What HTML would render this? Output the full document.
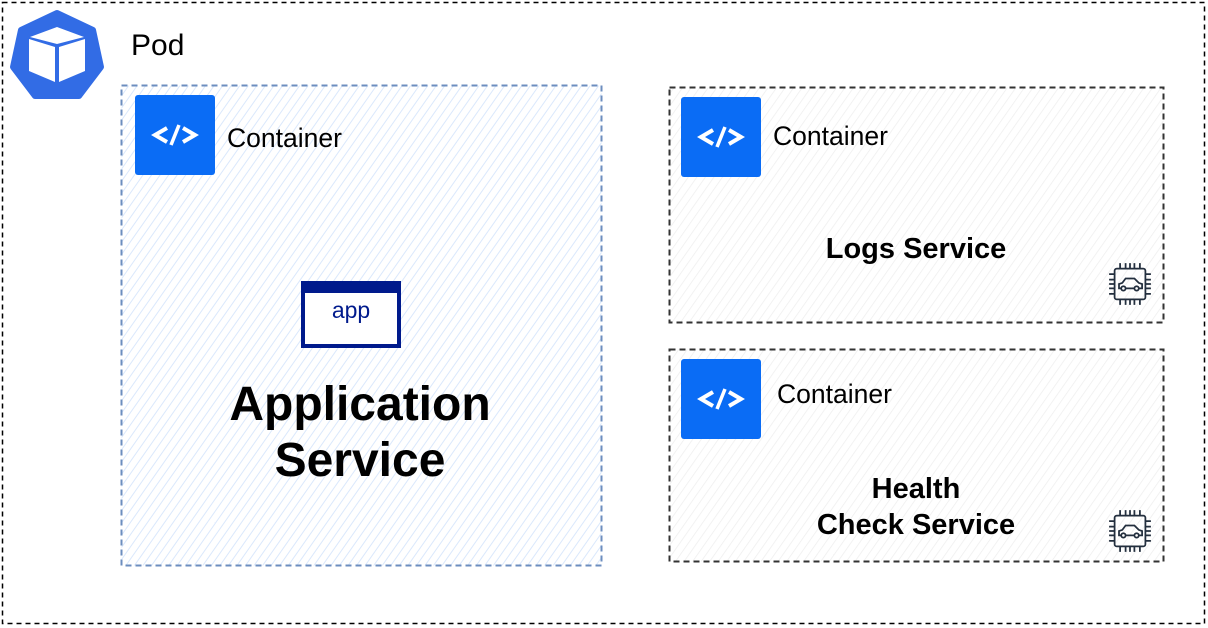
<!DOCTYPE html>
<html><head><style>
body{margin:0;background:#fff;}
svg{display:block;}
text{font-family:"Liberation Sans",Arial,sans-serif;}
</style></head><body>
<svg width="1208" height="628" viewBox="0 0 1208 628" xmlns="http://www.w3.org/2000/svg">
<defs>
<pattern id="hb" patternUnits="userSpaceOnUse" width="7" height="7" patternTransform="rotate(35)">
<rect width="7" height="7" fill="#fff"/><line x1="0" y1="0" x2="0" y2="7" stroke="#dae8fc" stroke-width="2"/></pattern>
<pattern id="hg" patternUnits="userSpaceOnUse" width="7" height="7" patternTransform="rotate(35)">
<rect width="7" height="7" fill="#fff"/><line x1="0" y1="0" x2="0" y2="7" stroke="#eeeeee" stroke-width="1.5"/></pattern>
<g id="code">
<rect width="80" height="80" rx="3" fill="#0a6cf5"/>
<path d="M32 33 L20 40 L32 47" fill="none" stroke="#fff" stroke-width="4"/>
<path d="M48 33 L60 40 L48 47" fill="none" stroke="#fff" stroke-width="4"/>
<path d="M44 30 L36 50" stroke="#fff" stroke-width="3.5"/>
</g>
<g id="chip" fill="none" stroke="#232f3e" stroke-width="1.6">
<rect x="6" y="6" width="28" height="28" rx="2"/>
<path d="M11 6V1M16 6V1M20 6V1M24 6V1M29 6V1M11 34v5M16 34v5M20 34v5M24 34v5M29 34v5M6 11H1M6 16H1M6 20H1M6 24H1M6 29H1M34 11h5M34 16h5M34 20h5M34 24h5M34 29h5"/>
<path d="M10 24v-4l3-1 3-4h8l4 4 3 1v4z"/>
<circle cx="14" cy="24" r="2" fill="#fff"/><circle cx="26" cy="24" r="2" fill="#fff"/>
</g>
</defs>
<rect x="2.5" y="2.5" width="1202" height="621" fill="none" stroke="#000" stroke-width="1.5" stroke-dasharray="5 4"/>
<polygon points="57,13 93,30 101,67 79,96 35,96 13,67 21,30" fill="#326ce5" stroke="#326ce5" stroke-width="6" stroke-linejoin="round"/>
<polygon points="57,27 84,37 57,44 30,37" fill="#fff"/>
<polygon points="29,39 55,47 55,82 29,71" fill="#fff"/>
<polygon points="59,47 85,39 85,71 59,82" fill="#fff"/>
<text x="131" y="55" font-size="30">Pod</text>

<rect x="121.5" y="85.5" width="480" height="480" fill="url(#hb)" stroke="#6c8ebf" stroke-width="2" stroke-dasharray="6 4"/>
<use href="#code" x="135" y="95"/>
<text x="227" y="147" font-size="26.5">Container</text>
<rect x="303" y="283" width="96" height="63" fill="#fff" stroke="#001a8c" stroke-width="4"/>
<rect x="303" y="283" width="96" height="10" fill="#001a8c"/>
<text x="351" y="318" font-size="23" fill="#001a8c" text-anchor="middle">app</text>
<text x="360" y="420" font-size="48" font-weight="bold" text-anchor="middle">Application</text>
<text x="360" y="476" font-size="48" font-weight="bold" text-anchor="middle">Service</text>

<rect x="669.5" y="87.5" width="494" height="235" fill="url(#hg)" stroke="#333" stroke-width="2" stroke-dasharray="6 4"/>
<use href="#code" x="681" y="97"/>
<text x="773" y="145" font-size="26.5">Container</text>
<text x="916" y="258" font-size="29" font-weight="bold" text-anchor="middle">Logs Service</text>
<use href="#chip" transform="translate(1108,262) scale(1.1)"/>

<rect x="669.5" y="349.5" width="494" height="212" fill="url(#hg)" stroke="#333" stroke-width="2" stroke-dasharray="6 4"/>
<use href="#code" x="681" y="359"/>
<text x="777" y="403" font-size="26.5">Container</text>
<text x="916" y="498" font-size="29" font-weight="bold" text-anchor="middle">Health</text>
<text x="916" y="534" font-size="29" font-weight="bold" text-anchor="middle">Check Service</text>
<use href="#chip" transform="translate(1108,509) scale(1.1)"/>
</svg>
</body></html>
